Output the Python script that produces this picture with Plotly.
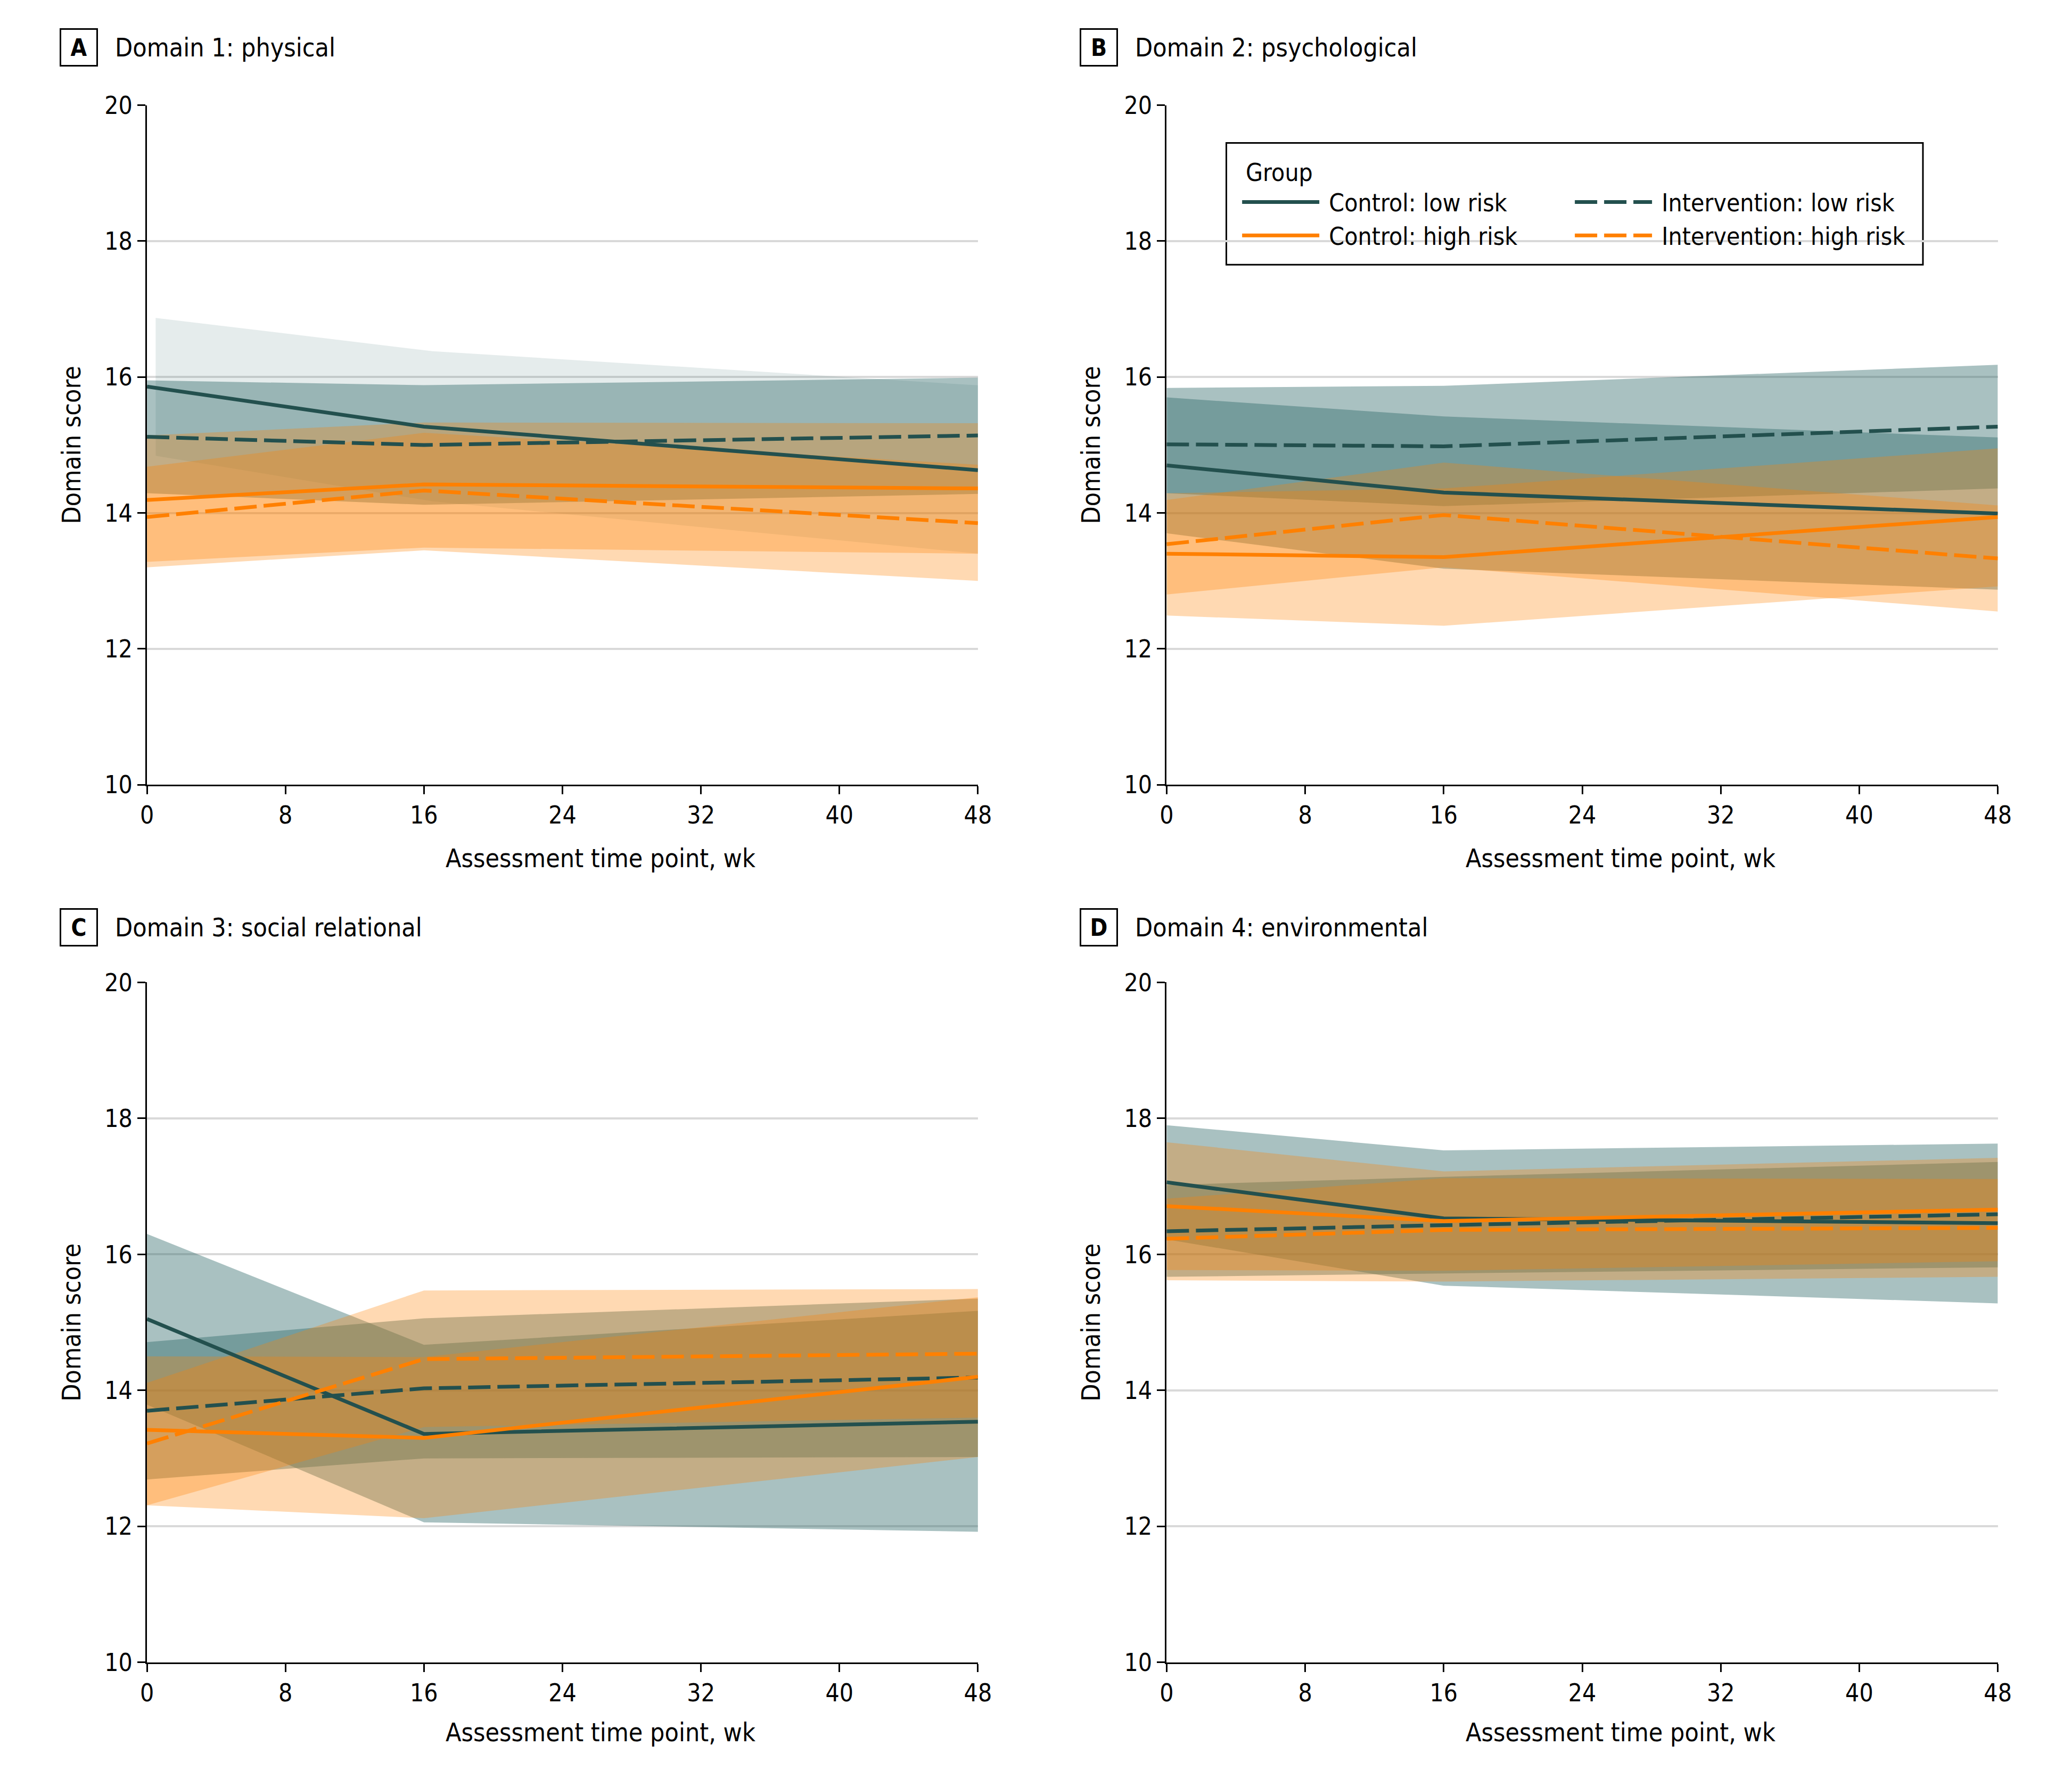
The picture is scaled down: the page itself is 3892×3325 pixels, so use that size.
import plotly.graph_objects as go

# assessment weeks
weeks = [0, 16, 48]

# panel A - Domain 1: physical
a_control_low = [15.86, 15.27, 14.63]
a_control_low_lo = [14.84, 14.17, 13.39]
a_control_low_hi = [16.87, 16.38, 15.87]
a_interv_low = [15.12, 15.00, 15.14]
a_interv_low_lo = [14.29, 14.12, 14.28]
a_interv_low_hi = [15.95, 15.88, 15.99]
a_control_high = [14.19, 14.42, 14.36]
a_control_high_lo = [13.28, 13.49, 13.40]
a_control_high_hi = [15.14, 15.33, 15.32]
a_interv_high = [13.94, 14.33, 13.85]
a_interv_high_lo = [13.20, 13.45, 13.00]
a_interv_high_hi = [14.68, 15.18, 14.71]

# panel B - Domain 2: psychological
b_control_low = [14.70, 14.30, 13.99]
b_control_low_lo = [13.70, 13.18, 12.87]
b_control_low_hi = [15.70, 15.42, 15.11]
b_interv_low = [15.01, 14.98, 15.27]
b_interv_low_lo = [14.29, 14.10, 14.36]
b_interv_low_hi = [15.84, 15.87, 16.18]
b_control_high = [13.40, 13.35, 13.94]
b_control_high_lo = [12.49, 12.34, 12.92]
b_control_high_hi = [14.29, 14.36, 14.95]
b_interv_high = [13.54, 13.97, 13.33]
b_interv_high_lo = [12.80, 13.20, 12.55]
b_interv_high_hi = [14.19, 14.74, 14.11]

# panel C - Domain 3: social relational
c_control_low = [15.05, 13.36, 13.54]
c_control_low_lo = [13.79, 12.06, 11.92]
c_control_low_hi = [16.30, 14.67, 15.17]
c_interv_low = [13.70, 14.03, 14.19]
c_interv_low_lo = [12.69, 13.00, 13.02]
c_interv_low_hi = [14.71, 15.06, 15.35]
c_control_high = [13.42, 13.30, 14.20]
c_control_high_lo = [12.31, 12.12, 13.02]
c_control_high_hi = [14.50, 14.49, 15.37]
c_interv_high = [13.22, 14.46, 14.54]
c_interv_high_lo = [12.31, 13.46, 13.60]
c_interv_high_hi = [14.11, 15.47, 15.49]

# panel D - Domain 4: environmental
d_control_low = [17.06, 16.53, 16.46]
d_control_low_lo = [16.22, 15.54, 15.28]
d_control_low_hi = [17.90, 17.53, 17.63]
d_interv_low = [16.34, 16.43, 16.59]
d_interv_low_lo = [15.67, 15.72, 15.81]
d_interv_low_hi = [17.02, 17.14, 17.36]
d_control_high = [16.71, 16.49, 16.66]
d_control_high_lo = [15.77, 15.76, 15.90]
d_control_high_hi = [17.65, 17.22, 17.42]
d_interv_high = [16.23, 16.36, 16.39]
d_interv_high_lo = [15.62, 15.60, 15.67]
d_interv_high_hi = [16.82, 17.12, 17.11]

panel_letters = ["A", "B", "C", "D"]
panel_titles = ["Domain 1: physical", "Domain 2: psychological",
                "Domain 3: social relational", "Domain 4: environmental"]
group_names = ["Control: low risk", "Intervention: low risk",
               "Control: high risk", "Intervention: high risk"]
x_title = "Assessment time point, wk"
y_title = "Domain score"

x_ticks = [0, 8, 16, 24, 32, 40, 48]
y_ticks = [10, 12, 14, 16, 18, 20]

panels = [
    [(a_control_low, a_control_low_lo, a_control_low_hi),
     (a_interv_low, a_interv_low_lo, a_interv_low_hi),
     (a_control_high, a_control_high_lo, a_control_high_hi),
     (a_interv_high, a_interv_high_lo, a_interv_high_hi)],
    [(b_control_low, b_control_low_lo, b_control_low_hi),
     (b_interv_low, b_interv_low_lo, b_interv_low_hi),
     (b_control_high, b_control_high_lo, b_control_high_hi),
     (b_interv_high, b_interv_high_lo, b_interv_high_hi)],
    [(c_control_low, c_control_low_lo, c_control_low_hi),
     (c_interv_low, c_interv_low_lo, c_interv_low_hi),
     (c_control_high, c_control_high_lo, c_control_high_hi),
     (c_interv_high, c_interv_high_lo, c_interv_high_hi)],
    [(d_control_low, d_control_low_lo, d_control_low_hi),
     (d_interv_low, d_interv_low_lo, d_interv_low_hi),
     (d_control_high, d_control_high_lo, d_control_high_hi),
     (d_interv_high, d_interv_high_lo, d_interv_high_hi)],
]

TEAL = "#23504e"
ORANGE = "#ff8000"
line_colors = [TEAL, TEAL, ORANGE, ORANGE]
band_colors = ["rgba(40,100,100,{})", "rgba(40,100,100,{})",
               "rgba(255,128,0,{})", "rgba(255,128,0,{})"]
band_alpha = [0.4, 0.4, 0.3, 0.3]
dashes = ["solid", "42px,13px", "solid", "42px,13px"]
legend_ids = ["legend", "legend2", "legend", "legend2"]

# panel A's control low band is drawn fainter and slightly offset in the source
band_override = {(0, 0): dict(alpha=0.12, shift=0.5)}

FONT = "Liberation Sans Narrow, DejaVu Sans Condensed, Arial Narrow, sans-serif"

x_domains = [[0.0662, 0.4713], [0.5633, 0.9685]]
y_domains = [[0.5600, 0.9503], [0.0560, 0.4465]]

fig = go.Figure()

for p, series in enumerate(panels):
    xa = "x" if p == 0 else "x%d" % (p + 1)
    ya = "y" if p == 0 else "y%d" % (p + 1)
    # bands first
    for s, (mean, lo, hi) in enumerate(series):
        ov = band_override.get((p, s), {})
        alpha = ov.get("alpha", band_alpha[s])
        shift = ov.get("shift", 0)
        bx = [w + shift for w in weeks]
        fig.add_trace(go.Scatter(
            x=bx + bx[::-1], y=hi + lo[::-1],
            fill="toself", fillcolor=band_colors[s].format(alpha),
            line=dict(width=0), mode="lines", hoverinfo="skip",
            showlegend=False, xaxis=xa, yaxis=ya))
    for s, (mean, lo, hi) in enumerate(series):
        fig.add_trace(go.Scatter(
            x=weeks, y=mean, mode="lines", name="\u00a0" + group_names[s],
            line=dict(color=line_colors[s], width=7, dash=dashes[s]),
            showlegend=(p == 0), legend=legend_ids[s],
            xaxis=xa, yaxis=ya))

axis_common = dict(
    showline=True, linecolor="black", linewidth=3,
    ticks="outside", ticklen=15, tickwidth=3, tickcolor="black",
    tickfont=dict(size=46, color="black", family=FONT),
    zeroline=False,
)

layout = dict(
    width=3892, height=3325,
    margin=dict(l=0, r=0, t=0, b=0),
    paper_bgcolor="white", plot_bgcolor="white",
    font=dict(family=FONT, color="black", size=46),
)

annotations = []
for p in range(4):
    col = p % 2
    row = p // 2
    sfx = "" if p == 0 else str(p + 1)
    layout["xaxis" + sfx] = dict(
        axis_common, domain=x_domains[col], range=[0, 48],
        tickvals=x_ticks, showgrid=False, anchor="y" + sfx)
    layout["yaxis" + sfx] = dict(
        axis_common, domain=y_domains[row], range=[10, 20],
        tickvals=y_ticks, showgrid=True, gridcolor="#d9d9d9", gridwidth=4,
        anchor="x" + sfx,
        title=dict(text=y_title, font=dict(size=48, family=FONT), standoff=30))
    # x title sits a little right of the axis centre in the source
    annotations.append(dict(
        xref="paper", yref="paper",
        x=sum(x_domains[col]) / 2 + 0.0186, y=[0.5180, 0.0160][row],
        text=x_title, showarrow=False,
        font=dict(size=48, family=FONT, color="black"),
        xanchor="center", yanchor="middle"))
    box_x = [0.0330, 0.5302][col]
    text_x = [0.0502, 0.5473][col]
    head_y = [0.9835, 0.4780][row]
    annotations.append(dict(
        xref="paper", yref="paper", x=box_x, y=head_y,
        text="<b>%s</b>" % panel_letters[p], showarrow=False,
        font=dict(size=44, family=FONT, color="black"),
        bordercolor="black", borderwidth=3, borderpad=10,
        width=46, height=46, xanchor="center", yanchor="middle"))
    annotations.append(dict(
        xref="paper", yref="paper", x=text_x, y=head_y,
        text=panel_titles[p], showarrow=False,
        font=dict(size=48, family=FONT, color="black"),
        xanchor="left", yanchor="middle"))

# legend title and frame
annotations.append(dict(
    xref="paper", yref="paper", x=0.6013, y=0.9118, text="Group",
    showarrow=False, font=dict(size=46, family=FONT, color="black"),
    xanchor="left", yanchor="middle"))
layout["annotations"] = annotations
layout["shapes"] = [dict(
    type="rect", xref="paper", yref="paper",
    x0=0.5924, x1=0.9320, y0=0.8587, y1=0.9286,
    line=dict(color="black", width=3), fillcolor="white", layer="below")]

legend_common = dict(
    orientation="v", xanchor="left", yanchor="top",
    bgcolor="rgba(0,0,0,0)", borderwidth=0,
    font=dict(size=46, family=FONT, color="black"),
    itemwidth=145, traceorder="normal")
layout["legend"] = dict(legend_common, x=0.5988, y=0.9058)
layout["legend2"] = dict(legend_common, x=0.7610, y=0.9058)

fig.update_layout(**layout)

fig.write_html("out.html")
